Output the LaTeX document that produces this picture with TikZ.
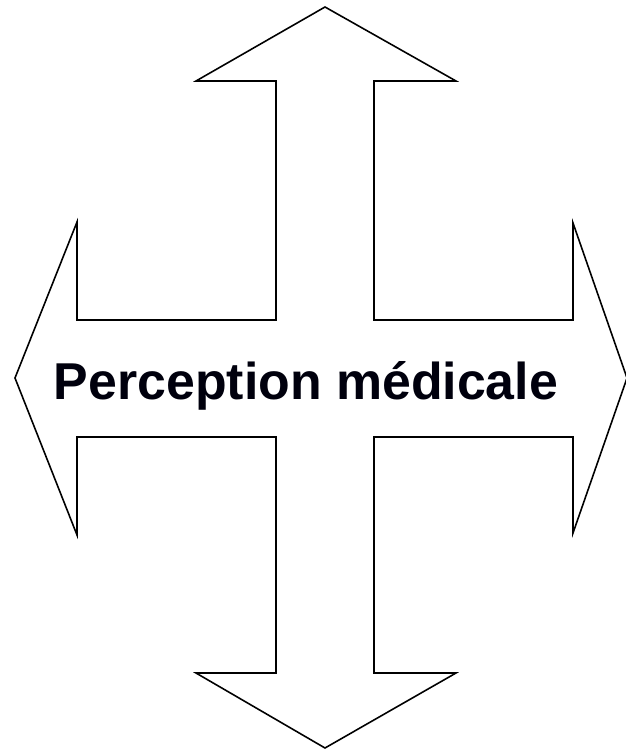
\documentclass[tikz,border=0pt]{standalone}
\usepackage{fontspec}
\setmainfont{Liberation Sans}
\usetikzlibrary{positioning}

\begin{document}
\begin{tikzpicture}[x=0.02cm, y=-0.02cm, line width=0.9pt]
  \useasboundingbox (0,0) rectangle (625,749);
  % four-way arrow
  \coordinate (top) at (325,7);
  \coordinate (bottom) at (325,748);
  \coordinate (left) at (15,378);
  \coordinate (right) at (627,378);
  \filldraw[fill=white, draw=black, line join=miter]
    (top) -- (456,81) -- (374,81) -- (374,320) -- (573,320) -- (573,223)
    -- (right) -- (573,533) -- (573,437) -- (374,437) -- (374,673)
    -- (456,673) -- (bottom) -- (196,673) -- (276,673) -- (276,437)
    -- (77,437) -- (77,535) -- (left) -- (77,222) -- (77,320)
    -- (276,320) -- (276,81) -- (196,81) -- cycle;
  \node[anchor=base, inner sep=0pt, font=\fontsize{29.5}{36}\selectfont\bfseries, text=black!95!blue]
    (label) at (306,399) {Perception médicale};
\end{tikzpicture}
\end{document}
